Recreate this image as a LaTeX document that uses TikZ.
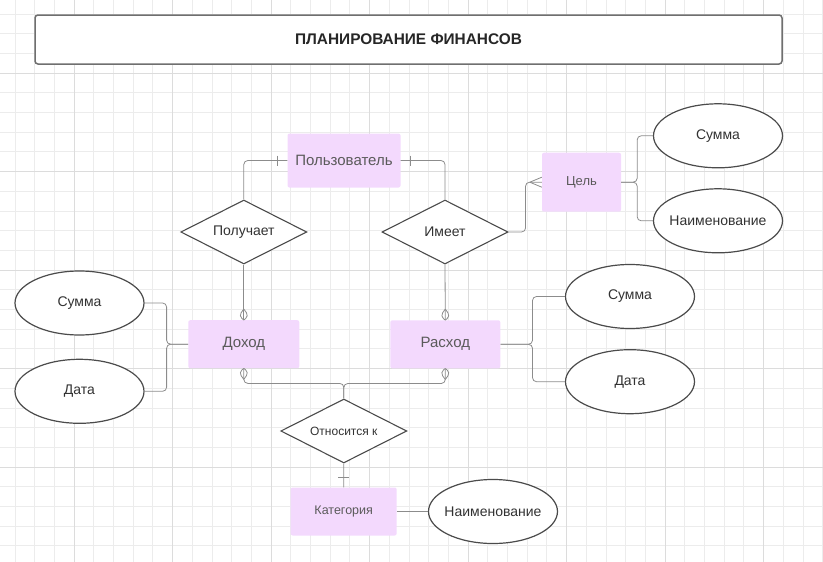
\documentclass[tikz,border=0pt]{standalone}
\usepackage{fontspec}
\setmainfont{Liberation Sans}
\usetikzlibrary{shapes.geometric}

\definecolor{boxfill}{RGB}{243,217,253}
\definecolor{boxtext}{RGB}{90,90,90}
\definecolor{labeltext}{RGB}{50,50,50}
\definecolor{shapeline}{RGB}{75,75,75}
\definecolor{linkgray}{RGB}{140,140,140}
\definecolor{gridminor}{RGB}{236,236,236}
\definecolor{gridmajor}{RGB}{220,220,220}

\tikzset{
  entity/.style={fill=boxfill, rounded corners=2pt, inner sep=0pt, text=boxtext,
    font=\fontsize{15}{18}\selectfont},
  attr/.style={ellipse, draw=shapeline, line width=1.2pt, fill=white, inner sep=0pt,
    inner xsep=-10pt, minimum width=129pt, minimum height=64pt, text=labeltext,
    font=\fontsize{14}{17}\selectfont},
  rel/.style={diamond, aspect=2, draw=shapeline, line width=1.1pt, fill=white, inner sep=0pt,
    minimum width=126pt, minimum height=64pt, text=labeltext,
    font=\fontsize{14}{17}\selectfont},
  link/.style={draw=linkgray, line width=0.8pt, rounded corners=4pt}
}

\begin{document}
\begin{tikzpicture}[x=1pt, y=-1pt]
\useasboundingbox (0,0) rectangle (823,562);

% grid
\foreach \i in {0,...,41}
  \draw [gridminor, line width=0.8pt] (14.9+19.7*\i, 0) -- (14.9+19.7*\i, 562);
\foreach \j in {0,...,27}
  \draw [gridminor, line width=0.8pt] (0, 13.9+19.7*\j) -- (823, 13.9+19.7*\j);
\foreach \k in {0,...,7}
  \draw [gridmajor, line width=0.8pt] (74+98.5*\k, 0) -- (74+98.5*\k, 562);
\foreach \k in {0,...,4}
  \draw [gridmajor, line width=0.8pt] (0, 73+98.5*\k) -- (823, 73+98.5*\k);

\node [draw=shapeline!80, line width=1.5pt, rounded corners=3pt, fill=white,
  minimum width=747pt, minimum height=49pt, text depth=0pt, text height=11pt,
  font=\bfseries\fontsize{15.4}{18}\selectfont, text=black!85] (title) at (408.5, 39.5) {ПЛАНИРОВАНИЕ ФИНАНСОВ};

% entities
\node [entity, minimum width=113pt, minimum height=54pt] (user) at (344, 160.5) {Пользователь};
\node [entity, minimum width=111pt, minimum height=48pt] (income) at (243.8, 344.2) {Доход};
\node [entity, minimum width=110pt, minimum height=48pt] (expense) at (445.3, 344.3) {Расход};
\node [entity, minimum width=79pt, minimum height=59pt, font=\fontsize{13}{16}\selectfont] (goal) at (581.5, 182.2) {Цель};
\node [entity, minimum width=106pt, minimum height=48pt, font=\fontsize{12.5}{15}\selectfont] (cat) at (343.7, 511.5) {Категория};

% relations
\node [rel] (get) at (243.8, 232) {Получает};
\node [rel] (has) at (445, 232) {Имеет};
\node [rel, font=\fontsize{12}{15}\selectfont] (belongs) at (343.8, 431) {Относится к};

% attributes
\node [attr] (goalsum) at (718, 135.8) {Сумма};
\node [attr] (goalname) at (718, 220.8) {Наименование};
\node [attr] (expsum) at (630, 296.5) {Сумма};
\node [attr] (expdate) at (630, 381.7) {Дата};
\node [attr] (incsum) at (79.5, 303) {Сумма};
\node [attr] (incdate) at (79.5, 391.3) {Дата};
\node [attr] (catname) at (493, 511.5) {Наименование};

% links
\draw [link] (user.west) -| (get.north);
\draw [link] (user.east) -| (has.north);
\draw [link] ([xshift=-10pt]user.west) ++(0,-5) -- ++(0,10);
\draw [link] ([xshift=10pt]user.east) ++(0,-5) -- ++(0,10);

\draw [link] (get.south) -- (income.north);
\draw [link] (has.south) -- (expense.north);
\draw [link] ([yshift=11pt]income.north) -- ++(-5,7) -- (income.north);
\draw [link] ([yshift=11pt]income.north) -- ++(5,7) -- (income.north);
\draw [link] ([yshift=11pt]expense.north) -- ++(-5,7) -- (expense.north);
\draw [link] ([yshift=11pt]expense.north) -- ++(5,7) -- (expense.north);

\draw [link] (has.east) -- ++(17,0) |- (goal.west);
\draw [link] ([xshift=-12pt]goal.west) -- ([yshift=5pt]goal.west);
\draw [link] ([xshift=-12pt]goal.west) -- ([yshift=-5pt]goal.west);

\draw [link] (goal.east) -- ++(16,0) |- (goalsum.west);
\draw [link] (goal.east) -- ++(16,0) |- (goalname.west);
\draw [link] (expense.east) -- ++(32,0) |- (expsum.west);
\draw [link] (expense.east) -- ++(32,0) |- (expdate.west);
\draw [link] (income.west) -- ++(-21.5,0) |- (incsum.east);
\draw [link] (income.west) -- ++(-21.5,0) |- (incdate.east);

\draw [link] (income.south) -- ++(0,15) -| (belongs.north);
\draw [link] (expense.south) -- ++(0,15) -| (belongs.north);
\draw [link] ([yshift=-11pt]income.south) -- ++(-5,-7) -- (income.south);
\draw [link] ([yshift=-11pt]income.south) -- ++(5,-7) -- (income.south);
\draw [link] ([yshift=-11pt]expense.south) -- ++(-5,-7) -- (expense.south);
\draw [link] ([yshift=-11pt]expense.south) -- ++(5,-7) -- (expense.south);

\draw [link] (belongs.south) -- (cat.north);
\draw [link] ([yshift=10pt]cat.north) ++(-5.5,0) -- ++(11,0);
\draw [link] (cat.east) -- (catname.west);

\end{tikzpicture}
\end{document}
